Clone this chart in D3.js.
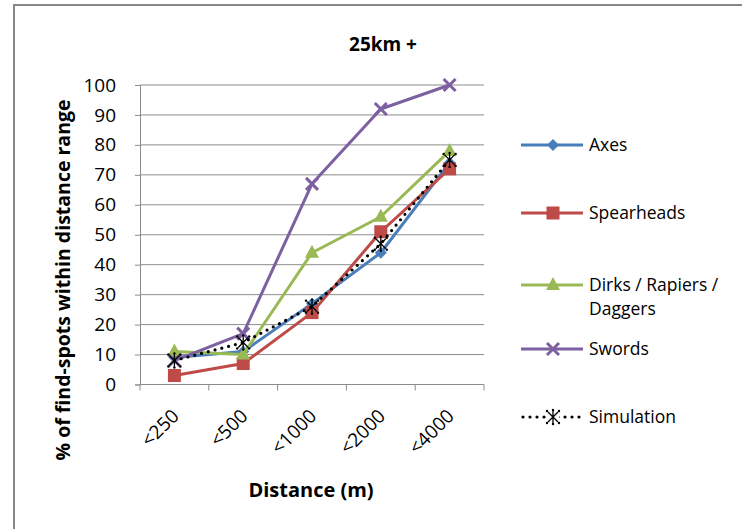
<!DOCTYPE html>
<html>
<head>
<meta charset="utf-8">
<script src="https://cdn.jsdelivr.net/npm/d3@7"></script>
<style>
  html, body { margin: 0; padding: 0; background: #fff; }
  svg text { font-family: "Open Sans", "Noto Sans", sans-serif; fill: #000; }
</style>
</head>
<body>
<svg id="chart" width="742" height="529"></svg>
<script>
// Cumulative % of find-spots within each distance band (25km+ group)
const categories = ["<250", "<500", "<1000", "<2000", "<4000"];
const axes       = [9, 11, 27, 44, 74];
const spearheads = [3, 7, 24, 51, 72];
const dirks      = [11, 10, 44, 56, 78];
const swords     = [8, 17, 67, 92, 100];
const simulation = [8, 14, 26, 47, 75];
const yTicks     = [0, 10, 20, 30, 40, 50, 60, 70, 80, 90, 100];

const seriesNames = ["Axes", "Spearheads", "Dirks / Rapiers / Daggers", "Swords", "Simulation"];

const series = [
  { name: seriesNames[0], values: axes,       color: "#4A7EBB", marker: "diamond" },
  { name: seriesNames[1], values: spearheads, color: "#BE4B48", marker: "square" },
  { name: seriesNames[2], values: dirks,      color: "#98B954", marker: "triangle" },
  { name: seriesNames[3], values: swords,     color: "#7D60A0", marker: "cross" },
  { name: seriesNames[4], values: simulation, color: "#000000", marker: "star", dotted: true }
];

const svg = d3.select("#chart");

// outer frame
svg.append("rect")
  .attr("x", 14).attr("y", 5)
  .attr("width", 760).attr("height", 560)
  .attr("fill", "none").attr("stroke", "#878787").attr("stroke-width", 2);

const plot = { left: 140, right: 484, top: 85, bottom: 384.5 };

const x = d3.scaleBand().domain(categories).range([plot.left, plot.right]);
const y = d3.scaleLinear().domain([0, 100]).range([plot.bottom, plot.top]);

// horizontal gridlines
svg.append("g").selectAll("line").data(yTicks.filter(d => d > 0)).join("line")
  .attr("x1", plot.left).attr("x2", plot.right)
  .attr("y1", d => y(d)).attr("y2", d => y(d))
  .attr("stroke", "#8c8c8c").attr("stroke-width", 1);

// y axis
const yAxis = svg.append("g")
  .attr("transform", `translate(${plot.left},0)`)
  .call(d3.axisLeft(y).tickValues(yTicks).tickSize(5).tickPadding(19));
yAxis.select(".domain").attr("stroke", "#8c8c8c");
yAxis.selectAll(".tick line").attr("stroke", "#8c8c8c");
yAxis.selectAll(".tick text").attr("font-size", 19).style("font-family", "'Open Sans', sans-serif");

// x axis with ticks on band boundaries
const xAxisG = svg.append("g").attr("transform", `translate(0,${plot.bottom})`);
xAxisG.append("line")
  .attr("x1", plot.left).attr("x2", plot.right)
  .attr("y1", 0).attr("y2", 0)
  .attr("stroke", "#8c8c8c");
const boundaries = categories.map(c => x(c)).concat([plot.right]);
xAxisG.selectAll("line.tick").data(boundaries).join("line")
  .attr("class", "tick")
  .attr("x1", d => d).attr("x2", d => d)
  .attr("y1", 0).attr("y2", 6)
  .attr("stroke", "#8c8c8c");
xAxisG.selectAll("text").data(categories).join("text")
  .attr("transform", d => `translate(${x(d) + x.bandwidth() / 2 + 1},${28}) rotate(-45)`)
  .attr("text-anchor", "end")
  .attr("dy", "0.35em")
  .attr("font-size", 19)
  .text(d => d);

// axis titles
svg.append("text")
  .attr("x", 311).attr("y", 497)
  .attr("text-anchor", "middle")
  .attr("font-size", 20).attr("font-weight", "bold")
  .text("Distance (m)");

svg.append("text")
  .attr("transform", "translate(70,280) rotate(-90)")
  .attr("text-anchor", "middle")
  .attr("font-size", 19.5).attr("font-weight", "bold")
  .text("% of find-spots within distance range");

// chart title
svg.append("text")
  .attr("x", 383).attr("y", 51)
  .attr("text-anchor", "middle")
  .attr("font-size", 19).attr("font-weight", "bold")
  .text("25km +");

// marker drawing
function drawMarker(g, type, color) {
  if (type === "diamond") {
    g.append("path").attr("d", "M0,-6L6,0L0,6L-6,0Z").attr("fill", color);
  } else if (type === "square") {
    g.append("rect").attr("x", -6.5).attr("y", -6.5).attr("width", 13).attr("height", 13).attr("fill", color);
  } else if (type === "triangle") {
    g.append("path").attr("d", "M0,-8L7,5L-7,5Z").attr("fill", color);
  } else if (type === "cross") {
    g.append("path").attr("d", "M-6,-6L6,6M-6,6L6,-6")
      .attr("stroke", color).attr("stroke-width", 3).attr("fill", "none");
  } else if (type === "star") {
    g.append("path").attr("d", "M-5,-5L5,5M-5,5L5,-5M0,-6L0,6")
      .attr("stroke", color).attr("stroke-width", 1.3).attr("fill", "none");
    const dots = [[-6,-6],[6,-6],[-6,6],[6,6],[0,-7],[0,7]];
    dots.forEach(p => g.append("circle").attr("cx", p[0]).attr("cy", p[1]).attr("r", 1.2).attr("fill", color));
  }
}

const line = d3.line()
  .x((d, i) => x(categories[i]) + x.bandwidth() / 2)
  .y(d => y(d));

series.forEach(s => {
  const g = svg.append("g");
  const path = g.append("path")
    .attr("d", line(s.values))
    .attr("fill", "none")
    .attr("stroke", s.color)
    .attr("stroke-width", s.dotted ? 3.2 : 3)
    .attr("stroke-linejoin", "round");
  if (s.dotted) path.attr("stroke-dasharray", "0,7").attr("stroke-linecap", "round");
  s.values.forEach((v, i) => {
    const m = g.append("g")
      .attr("transform", `translate(${x(categories[i]) + x.bandwidth() / 2},${y(v)})`);
    drawMarker(m, s.marker, s.color);
  });
});

// legend
const legendRows = [
  { y: 145, lines: ["Axes"] },
  { y: 213, lines: ["Spearheads"] },
  { y: 285, lines: ["Dirks / Rapiers /", "Daggers"] },
  { y: 349, lines: ["Swords"] },
  { y: 417, lines: ["Simulation"] }
];
series.forEach((s, i) => {
  const row = legendRows[i];
  const g = svg.append("g").attr("transform", `translate(0,${row.y})`);
  const l = g.append("line")
    .attr("x1", 521).attr("x2", 583).attr("y1", 0).attr("y2", 0)
    .attr("stroke", s.color).attr("stroke-width", s.dotted ? 3.2 : 3);
  if (s.dotted) l.attr("stroke-dasharray", "0,7").attr("stroke-linecap", "round").attr("x1", 523);
  const m = g.append("g").attr("transform", "translate(553,0)");
  if (s.dotted) m.append("rect").attr("x", -6).attr("y", -7).attr("width", 12).attr("height", 14).attr("fill", "#fff");
  drawMarker(m, s.marker, s.color);
  row.lines.forEach((t, j) => {
    g.append("text")
      .attr("x", 589).attr("y", j * 24)
      .attr("dy", "0.35em")
      .attr("font-size", 17.5)
      .text(t);
  });
});
</script>
</body>
</html>
